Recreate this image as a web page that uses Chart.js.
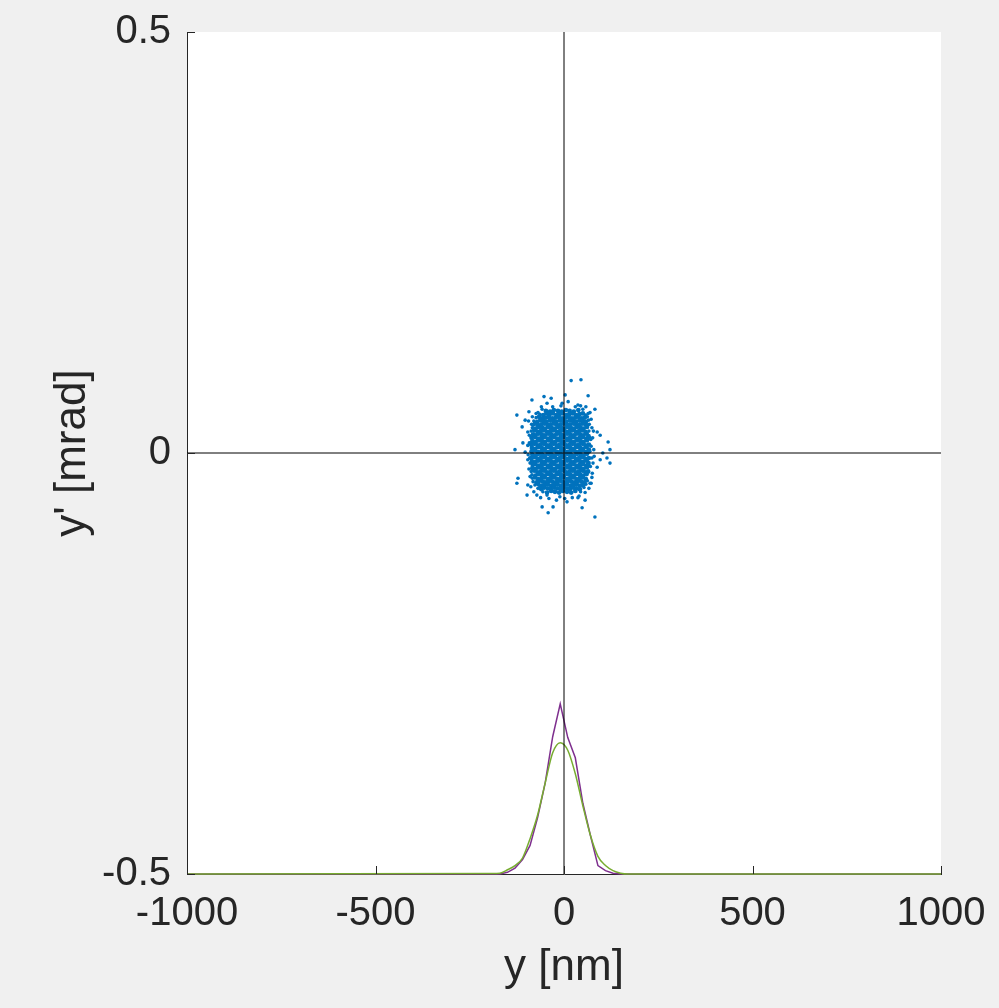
<!DOCTYPE html>
<html>
<head>
<meta charset="utf-8">
<script src="https://cdn.jsdelivr.net/npm/chart.js@4"></script>
<style>
  html, body { margin: 0; padding: 0; background: #f0f0f0; }
  canvas { display: block; }
</style>
</head>
<body>
<canvas id="phaseChart" width="999" height="1008"></canvas>
<script>
// axis ranges and tick values
const xRange = [-1000, 1000];
const yRange = [-0.5, 0.5];
const xTicks = [-1000, -500, 0, 500, 1000];
const yTicks = [-0.5, 0, 0.5];

// particles: [y in nm, y' in mrad]
const beamCore = [
  [-48,0.050],[-37,0.049],[-27,0.051],[-16,0.050],[-6,0.049],[5,0.051],[15,0.050],[26,0.049],[38,0.051],
  [-55,0.045],[-46,0.047],[-38,0.046],[-29,0.047],[-20,0.045],[-12,0.046],[-3,0.047],[6,0.045],[14,0.046],[23,0.047],[32,0.045],[41,0.046],[50,0.047],
  [-66,0.043],[-57,0.041],[-48,0.042],[-40,0.043],[-31,0.041],[-22,0.042],[-14,0.043],[-5,0.041],[4,0.042],[12,0.043],[21,0.041],[30,0.042],[38,0.043],[47,0.041],[55,0.042],
  [-71,0.037],[-63,0.039],[-54,0.038],[-46,0.037],[-37,0.039],[-28,0.038],[-20,0.037],[-11,0.039],[-2,0.038],[6,0.037],[15,0.039],[24,0.038],[32,0.037],[41,0.039],[49,0.038],[58,0.037],
  [-77,0.035],[-69,0.033],[-60,0.034],[-52,0.035],[-43,0.033],[-35,0.034],[-26,0.035],[-18,0.033],[-9,0.034],[-1,0.035],[8,0.033],[16,0.034],[25,0.035],[33,0.033],[42,0.034],[50,0.035],[59,0.033],
  [-75,0.029],[-67,0.031],[-58,0.030],[-50,0.029],[-41,0.031],[-33,0.030],[-24,0.029],[-16,0.031],[-7,0.030],[1,0.029],[10,0.031],[18,0.030],[27,0.029],[35,0.031],[44,0.030],[52,0.029],[61,0.031],
  [-79,0.027],[-70,0.025],[-62,0.026],[-53,0.027],[-45,0.025],[-36,0.026],[-28,0.027],[-19,0.025],[-11,0.026],[-2,0.027],[6,0.025],[15,0.026],[23,0.027],[32,0.025],[40,0.026],[49,0.027],[57,0.025],
  [-82,0.022],[-76,0.021],[-68,0.023],[-59,0.022],[-51,0.021],[-42,0.023],[-34,0.022],[-25,0.021],[-17,0.023],[-8,0.022],[0,0.021],[9,0.023],[17,0.022],[26,0.021],[34,0.023],[43,0.022],[51,0.021],[60,0.023],[65,0.020],
  [-86,0.018],[-77,0.019],[-69,0.017],[-60,0.018],[-52,0.019],[-43,0.017],[-35,0.018],[-26,0.019],[-18,0.017],[-9,0.018],[-1,0.019],[8,0.017],[16,0.018],[25,0.019],[33,0.017],[42,0.018],[50,0.019],[59,0.017],[67,0.018],
  [-84,0.014],[-75,0.013],[-67,0.015],[-58,0.014],[-50,0.013],[-41,0.015],[-33,0.014],[-24,0.013],[-16,0.015],[-7,0.014],[1,0.013],[10,0.015],[18,0.014],[27,0.013],[35,0.015],[44,0.014],[52,0.013],[61,0.015],
  [-87,0.010],[-79,0.011],[-70,0.009],[-62,0.010],[-53,0.011],[-45,0.009],[-36,0.010],[-28,0.011],[-19,0.009],[-11,0.010],[-2,0.011],[6,0.009],[15,0.010],[23,0.011],[32,0.009],[40,0.010],[49,0.011],[57,0.009],[66,0.010],
  [-85,0.006],[-76,0.005],[-68,0.007],[-59,0.006],[-51,0.005],[-42,0.007],[-34,0.006],[-25,0.005],[-17,0.007],[-8,0.006],[0,0.005],[9,0.007],[17,0.006],[26,0.005],[34,0.007],[43,0.006],[51,0.005],[60,0.007],[66,0.004],
  [-86,0.002],[-77,0.003],[-69,0.001],[-60,0.002],[-52,0.003],[-43,0.001],[-35,0.002],[-26,0.003],[-18,0.001],[-9,0.002],[-1,0.003],[8,0.001],[16,0.002],[25,0.003],[33,0.001],[42,0.002],[50,0.003],[59,0.001],[67,0.002],
  [-84,-0.002],[-75,-0.003],[-67,-0.001],[-58,-0.002],[-50,-0.003],[-41,-0.001],[-33,-0.002],[-24,-0.003],[-16,-0.001],[-7,-0.002],[1,-0.003],[10,-0.001],[18,-0.002],[27,-0.003],[35,-0.001],[44,-0.002],[52,-0.003],[61,-0.001],
  [-87,-0.006],[-79,-0.005],[-70,-0.007],[-62,-0.006],[-53,-0.005],[-45,-0.007],[-36,-0.006],[-28,-0.005],[-19,-0.007],[-11,-0.006],[-2,-0.005],[6,-0.007],[15,-0.006],[23,-0.005],[32,-0.007],[40,-0.006],[49,-0.005],[57,-0.007],[66,-0.006],
  [-85,-0.010],[-76,-0.011],[-68,-0.009],[-59,-0.010],[-51,-0.011],[-42,-0.009],[-34,-0.010],[-25,-0.011],[-17,-0.009],[-8,-0.010],[0,-0.011],[9,-0.009],[17,-0.010],[26,-0.011],[34,-0.009],[43,-0.010],[51,-0.011],[60,-0.009],[65,-0.012],
  [-83,-0.014],[-77,-0.013],[-69,-0.015],[-60,-0.014],[-52,-0.013],[-43,-0.015],[-35,-0.014],[-26,-0.013],[-18,-0.015],[-9,-0.014],[-1,-0.013],[8,-0.015],[16,-0.014],[25,-0.013],[33,-0.015],[42,-0.014],[50,-0.013],[59,-0.015],[64,-0.014],
  [-84,-0.018],[-75,-0.019],[-67,-0.017],[-58,-0.018],[-50,-0.019],[-41,-0.017],[-33,-0.018],[-24,-0.019],[-16,-0.017],[-7,-0.018],[1,-0.019],[10,-0.017],[18,-0.018],[27,-0.019],[35,-0.017],[44,-0.018],[52,-0.019],[61,-0.017],
  [-79,-0.021],[-70,-0.023],[-62,-0.022],[-53,-0.021],[-45,-0.023],[-36,-0.022],[-28,-0.021],[-19,-0.023],[-11,-0.022],[-2,-0.021],[6,-0.023],[15,-0.022],[23,-0.021],[32,-0.023],[40,-0.022],[49,-0.021],[57,-0.023],[64,-0.022],
  [-76,-0.027],[-68,-0.025],[-59,-0.026],[-51,-0.027],[-42,-0.025],[-34,-0.026],[-25,-0.027],[-17,-0.025],[-8,-0.026],[0,-0.027],[9,-0.025],[17,-0.026],[26,-0.027],[34,-0.025],[43,-0.026],[51,-0.027],[60,-0.025],
  [-77,-0.029],[-69,-0.031],[-60,-0.030],[-52,-0.029],[-43,-0.031],[-35,-0.030],[-26,-0.029],[-18,-0.031],[-9,-0.030],[-1,-0.029],[8,-0.031],[16,-0.030],[25,-0.029],[33,-0.031],[42,-0.030],[50,-0.029],[58,-0.031],
  [-73,-0.035],[-65,-0.033],[-56,-0.034],[-48,-0.035],[-39,-0.033],[-31,-0.034],[-22,-0.035],[-14,-0.033],[-5,-0.034],[3,-0.035],[12,-0.033],[20,-0.034],[29,-0.035],[37,-0.033],[46,-0.034],[54,-0.035],
  [-68,-0.037],[-60,-0.039],[-51,-0.038],[-43,-0.037],[-34,-0.039],[-26,-0.038],[-17,-0.037],[-9,-0.039],[0,-0.038],[8,-0.037],[17,-0.039],[25,-0.038],[34,-0.037],[42,-0.039],[51,-0.038],
  [-60,-0.043],[-52,-0.041],[-43,-0.042],[-35,-0.043],[-26,-0.041],[-18,-0.042],[-9,-0.043],[-1,-0.041],[8,-0.042],[16,-0.043],[25,-0.041],[33,-0.042],[42,-0.043],
  [-45,-0.047],[-34,-0.045],[-24,-0.046],[-13,-0.047],[-3,-0.045],[8,-0.046],[19,-0.047],[30,-0.045]
];

const beamHalo = [
  [-94,0.038],[-92,0.021],[-96,0.009],[-91,-0.006],[-93,-0.019],[-90,-0.028],[-88,-0.040],[-80,-0.046],
  [-72,-0.050],[-62,-0.053],[-40,-0.054],[-20,-0.056],[2,-0.054],[22,-0.053],[40,-0.051],[56,-0.047],
  [66,-0.042],[72,-0.036],[75,-0.024],[77,-0.012],[79,0.004],[76,0.018],[74,0.030],[72,0.040],
  [64,0.047],[50,0.052],[30,0.055],[-8,0.056],[-30,0.055],[-58,0.052],[-74,0.047],[-84,0.043],
  [-60,0.055],[44,0.056],[80,-0.004],[78,0.026],[-64,0.046],[57,0.045],[-74,0.042],[62,0.043],
  [-80,0.038],[65,0.039],[-86,0.034],[67,0.034],[-84,0.030],[-87,0.026],[66,0.026],[-87,-0.022],
  [-85,-0.026],[-84,-0.030],[58,-0.037],[-82,-0.034],[62,-0.033],[-77,-0.038],[-69,-0.042],[53,-0.041],
  [-56,-0.046],[44,-0.046],[-92,0.012],[-95,-0.002],[-90,-0.012],[72,0.008],[74,-0.006],[70,-0.016],[71,0.016],
  [19,0.086],[45,0.087],[3,0.069],[-53,0.067],[-34,0.065],[-85,0.063],[64,0.068],[11,0.061],
  [-45,0.059],[-5,0.059],[37,0.057],[58,0.055],[-93,0.049],[-69,0.048],[-125,0.045],[82,0.052],
  [69,0.048],[-103,0.039],[-111,0.031],[-82,0.033],[88,0.025],[96,0.021],[-96,0.025],[117,0.013],
  [-109,0.012],[-130,0.004],[-103,0.001],[122,0.004],[103,0.000],[114,-0.006],[96,-0.008],[-96,-0.008],
  [122,-0.012],[88,-0.017],[-122,-0.030],[-125,-0.036],[74,-0.029],[-96,-0.038],[69,-0.036],[-64,-0.040],
  [-98,-0.050],[-45,-0.050],[37,-0.053],[-11,-0.052],[8,-0.058],[56,-0.056],[-58,-0.064],[-29,-0.064],
  [-42,-0.071],[48,-0.065],[82,-0.076]
];

// projected distributions along y (bottom of the plot)
const histBins = [-1000, -190, -170, -150, -130, -110, -90, -70, -50, -30, -10, 10, 30, 50, 70, 90, 110, 130, 150, 170, 190, 1000];
const histParticles = [-0.5, -0.5, -0.5, -0.498, -0.493, -0.483, -0.466, -0.433, -0.392, -0.337, -0.298, -0.338, -0.362, -0.416, -0.454, -0.490, -0.496, -0.499, -0.5, -0.5, -0.5, -0.5];
const histGauss = [-0.5, -0.4995, -0.499, -0.495, -0.490, -0.481, -0.458, -0.430, -0.392, -0.356, -0.344, -0.353, -0.381, -0.419, -0.454, -0.479, -0.490, -0.496, -0.499, -0.5, -0.5, -0.5];

const fontFamily = "'Liberation Sans', Arial, Helvetica, sans-serif";
const textColor = "#262626";

const toPoints = (xs, ys) => xs.map((x, i) => ({ x: x, y: ys[i] }));

const plotBackground = {
  id: "plotBackground",
  beforeDraw(chart) {
    const { ctx, chartArea: a } = chart;
    ctx.save();
    ctx.fillStyle = "#ffffff";
    ctx.fillRect(a.left, a.top, a.right - a.left, a.bottom - a.top);
    ctx.restore();
  }
};

// matlab style ticks pointing into the axes
const inwardTicks = {
  id: "inwardTicks",
  afterDraw(chart) {
    const { ctx, chartArea: a, scales } = chart;
    ctx.save();
    ctx.strokeStyle = textColor;
    ctx.lineWidth = 1;
    ctx.beginPath();
    xTicks.forEach(v => {
      const px = Math.round(scales.x.getPixelForValue(v)) + 0.5;
      ctx.moveTo(px, a.bottom);
      ctx.lineTo(px, a.bottom - 8);
    });
    yTicks.forEach(v => {
      const py = Math.round(scales.y.getPixelForValue(v)) + 0.5;
      ctx.moveTo(a.left, py);
      ctx.lineTo(a.left + 8, py);
    });
    ctx.stroke();
    ctx.restore();
  }
};

new Chart(document.getElementById("phaseChart"), {
  type: "scatter",
  data: {
    datasets: [
      {
        data: [{ x: 0, y: yRange[0] }, { x: 0, y: yRange[1] }],
        showLine: true, borderColor: "#000000", borderWidth: 1, pointRadius: 0
      },
      {
        data: [{ x: xRange[0], y: 0 }, { x: xRange[1], y: 0 }],
        showLine: true, borderColor: "#000000", borderWidth: 1, pointRadius: 0
      },
      {
        data: toPoints(histBins, histGauss),
        showLine: true, borderColor: "#77AC30", borderWidth: 1.5, pointRadius: 0,
        cubicInterpolationMode: "monotone", clip: 3
      },
      {
        data: toPoints(histBins, histParticles),
        showLine: true, borderColor: "#7E2F8E", borderWidth: 1.5, pointRadius: 0, clip: 3
      },
      {
        data: beamHalo.map(p => ({ x: p[0], y: p[1] })),
        backgroundColor: "#0072BD", borderWidth: 0, pointRadius: 1.8
      },
      {
        data: beamCore.map(p => ({ x: p[0], y: p[1] })),
        backgroundColor: "#0072BD", borderWidth: 0, pointRadius: 2.4
      }
    ]
  },
  options: {
    responsive: false,
    animation: false,
    layout: { padding: { top: 32, right: 58, left: 0, bottom: 0 } },
    plugins: { legend: { display: false }, tooltip: { enabled: false } },
    scales: {
      x: {
        type: "linear",
        min: xRange[0],
        max: xRange[1],
        afterBuildTicks: s => { s.ticks = xTicks.map(v => ({ value: v })); },
        afterFit: s => { s.height = 134; s.paddingLeft = 0; s.paddingRight = 0; },
        ticks: {
          font: { family: fontFamily, size: 40 },
          color: textColor,
          padding: 16,
          maxRotation: 0,
          autoSkip: false,
          callback: v => String(v)
        },
        grid: { display: false, drawTicks: false },
        border: { display: true, color: textColor, width: 1 },
        title: {
          display: true,
          text: "y [nm]",
          font: { family: fontFamily, size: 44 },
          color: textColor,
          padding: { top: 0, bottom: 14 }
        }
      },
      y: {
        type: "linear",
        min: yRange[0],
        max: yRange[1],
        afterBuildTicks: s => { s.ticks = yTicks.map(v => ({ value: v })); },
        afterFit: s => { s.width = 187; s.paddingTop = 0; s.paddingBottom = 0; },
        ticks: {
          font: { family: fontFamily, size: 40 },
          color: textColor,
          padding: 16,
          autoSkip: false,
          callback: v => String(v)
        },
        grid: { display: false, drawTicks: false },
        border: { display: true, color: textColor, width: 1 },
        title: {
          display: true,
          text: "y' [mrad]",
          font: { family: fontFamily, size: 44 },
          color: textColor,
          padding: { top: 46, bottom: 0 }
        }
      }
    }
  },
  plugins: [plotBackground, inwardTicks]
});
</script>
</body>
</html>
